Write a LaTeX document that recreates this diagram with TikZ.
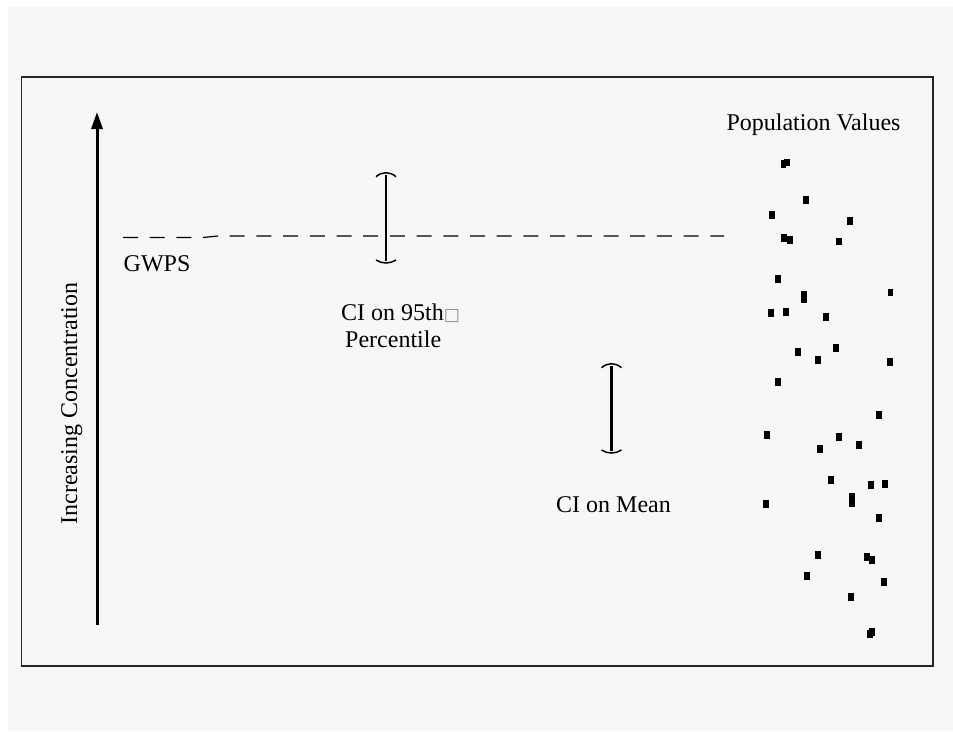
\documentclass[tikz,border=0pt]{standalone}
\usepackage{fontspec}
\setmainfont{Liberation Serif}
\newfontfamily\symfont{DejaVu Sans}
\usetikzlibrary{arrows.meta}
\definecolor{paper}{HTML}{F7F7F7}
\tikzset{
  txt/.style={font=\fontsize{24}{27}\selectfont,inner sep=0pt},
  frame/.style={draw=black!85,line width=1.5pt},
  axis/.style={line width=3pt,-{Triangle[length=17pt,width=11pt]}},
  gwps/.style={line width=1.2pt,dash pattern=on 15pt off 11.7pt},
  errbar/.style={line width=2.2pt},
  errcap/.style={line width=1.5pt},
}
\begin{document}
\begin{tikzpicture}[x=1pt,y=-1pt]
        \useasboundingbox (0,0) rectangle (953,731);
        \fill[paper] (8,7) rectangle (953,731);
        \draw[frame] (21.5,77) rectangle (933,666);
        % concentration axis
        \coordinate (axisfoot) at (97,625);
        \coordinate (axistip) at (97,112);
        \draw[axis] (axisfoot)--(axistip);
        \node[txt,rotate=90,anchor=base] (axislabel) at (77,403.5) {Increasing Concentration};
        % groundwater protection standard
        \coordinate (gwpsstart) at (123,237.5);
        \coordinate (gwpsend) at (724,236);
        \draw[gwps] (gwpsstart)--(203,237.5)--(218,236)--(gwpsend);
        \node[txt,anchor=base west] (gwpslabel) at (123.5,271.5) {GWPS};
        % confidence intervals
        \foreach \bx/\bt/\bb in {386/175/261, 611.5/366/451}{
          \coordinate (bartop) at (\bx,\bt);
          \coordinate (barbot) at (\bx,\bb);
          \draw[errbar] (bartop)--(barbot);
          \draw[errcap] ({\bx-10},{\bt+1.7}) .. controls ({\bx-4},{\bt-3.6}) and ({\bx+4},{\bt-3.6}) .. ({\bx+10},{\bt+1.7});
          \draw[errcap] ({\bx-10},{\bb-1}) .. controls ({\bx-4},{\bb+3}) and ({\bx+4},{\bb+3}) .. ({\bx+10},{\bb-1});
        }
        \node[txt,anchor=base west] (ci95label) at (341,320) {CI on 95th\textcolor{black!45}{\symfont\fontsize{17}{20}\selectfont □}};
        \node[txt,anchor=base west] (pctlabel) at (345,347) {Percentile};
        \node[txt,anchor=base] (meanlabel) at (613.5,512) {CI on Mean};
        % population values
        \node[txt,anchor=base] (poplabel) at (813.5,130) {Population Values};
        \foreach \px/\py in {783.5/164, 787/162.5, 806/200, 772/215, 850/221, 784/238, 790/240, 839/241.5,
          778/279, 804/295, 804/299, 890.3/292.7, 771/313, 786/312, 826/317, 798/352, 836/348, 818/360,
          890/362, 778/382, 879/415, 767/435, 839/437, 859/445, 820/449, 831/480, 871/485, 885/484,
          852/497, 852/503, 766/504, 879/518, 818/555, 867/557, 872/560, 807/576, 884/582, 851/597,
          870/634, 872/632}
          \fill ({\px-2.6},{\py-3.6}) rectangle ({\px+2.6},{\py+3.6});
      \end{tikzpicture}
\end{document}
